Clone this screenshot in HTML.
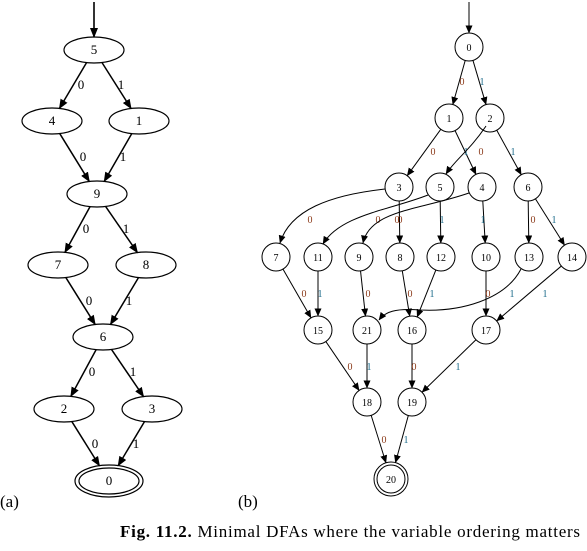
<!DOCTYPE html>
<html><head><meta charset="utf-8"><style>
html,body{margin:0;padding:0;background:#fff;}
svg{display:block;font-family:"Liberation Serif",serif;}
</style></head><body>
<svg id="s" width="587" height="551" viewBox="0 0 587 551" xmlns="http://www.w3.org/2000/svg">
<defs>
<marker id="ah" markerWidth="10" markerHeight="8" refX="9" refY="4" orient="auto" markerUnits="userSpaceOnUse"><path d="M0,0 L10,4 L0,8 z" fill="#000"/></marker>
<marker id="ah2" markerWidth="8" markerHeight="7" refX="7.5" refY="3.5" orient="auto" markerUnits="userSpaceOnUse"><path d="M0,0 L8,3.5 L0,7 z" fill="#000"/></marker>
</defs>
<g id="g"></g>
<text x="0" y="507" font-size="17">(a)</text>
<text x="238" y="507" font-size="17">(b)</text>
<text x="120" y="537" font-size="17" textLength="460" lengthAdjust="spacing"><tspan font-weight="bold">Fig. 11.2.</tspan> Minimal DFAs where the variable ordering matters</text>
</svg>
<script>
var g=document.getElementById('g'),out='';
var L={5:[94,50],4:[52,121],1:[139,121],9:[97,194],7:[58,265],8:[146,265],6:[103,337],2:[64,409],3:[152,409],0:[109,481]};
var rx=30,ry=13;
function eclip(c,t){var dx=t[0]-c[0],dy=t[1]-c[1];var k=1/Math.sqrt(dx*dx/(rx*rx)+dy*dy/(ry*ry));return [c[0]+dx*k,c[1]+dy*k];}
for(var k in L){var p=L[k];out+='<ellipse cx="'+p[0]+'" cy="'+p[1]+'" rx="'+rx+'" ry="'+ry+'" fill="none" stroke="#000" stroke-width="1.2"/>';
out+='<text x="'+p[0]+'" y="'+(p[1]+4)+'" font-size="13" text-anchor="middle">'+k+'</text>';}
out+='<ellipse cx="109" cy="481" rx="34" ry="16" fill="none" stroke="#000" stroke-width="1.2"/>';
out+='<line x1="94" y1="2" x2="94" y2="37" stroke="#000" stroke-width="1.6" marker-end="url(#ah)"/>';
var LE=[[5,4,'0',81,89],[5,1,'1',121,89],[4,9,'0',83,161],[1,9,'1',123,161],[9,7,'0',86,233],[9,8,'1',126,233],[7,6,'0',89,305],[8,6,'1',129,305],[6,2,'0',92,376],[6,3,'1',133,376],[2,0,'0',95,448],[3,0,'1',136,448]];
LE.forEach(function(e){var a=L[e[0]],b=L[e[1]];
 var p1=eclip(a,b),p2=eclip(b,a);if(e[1]==0){var dx=a[0]-b[0],dy=a[1]-b[1];var kk=1/Math.sqrt(dx*dx/(34*34)+dy*dy/(16*16));p2=[b[0]+dx*kk,b[1]+dy*kk];}
 out+='<line x1="'+p1[0]+'" y1="'+p1[1]+'" x2="'+p2[0]+'" y2="'+p2[1]+'" stroke="#000" stroke-width="1.5" marker-end="url(#ah)"/>';
 out+='<text x="'+e[3]+'" y="'+e[4]+'" font-size="13" text-anchor="middle">'+e[2]+'</text>';});
var R={0:[469,47],1:[449,118],2:[490,118],3:[399,187],5:[440,187],4:[482,187],6:[528,187],
7:[276,257],11:[318,257],9:[359,257],8:[400,257],12:[441,257],10:[486,257],13:[529,257],14:[572,257],
15:[318,330],21:[367,330],16:[412,330],17:[486,330],18:[367,402],19:[412,402],20:[391,479]};
var r=14;
for(var k in R){var p=R[k];out+='<circle cx="'+p[0]+'" cy="'+p[1]+'" r="'+(k==20?17:r)+'" fill="none" stroke="#000" stroke-width="1"/>';
 if(k==20)out+='<circle cx="'+p[0]+'" cy="'+p[1]+'" r="14" fill="none" stroke="#000" stroke-width="1"/>';
 out+='<text x="'+p[0]+'" y="'+(p[1]+4)+'" font-size="10" text-anchor="middle">'+k+'</text>';}
out+='<line x1="469" y1="2" x2="469" y2="33" stroke="#000" stroke-width="1" marker-end="url(#ah2)"/>';
var C0='#8b3a1a',C1='#1a6a8a';
var RE=[[0,1,'0',462,85],[0,2,'1',482,85],[1,3,'0',433,155],[1,4,'1',466,155],[2,6,'1',513,155],
[3,8,'0',400,223],[5,12,'1',442,223],[4,10,'1',483,223],[6,13,'0',533,223],[6,14,'1',554,223],
[7,15,'0',304,297],[11,15,'1',320,297],[9,21,'0',368,297],[8,16,'0',410,297],[12,16,'1',432,297],[10,17,'0',488,297],[14,17,'1',545,297],
[15,18,'0',350,370],[21,18,'1',369,370],[16,19,'0',414,370],[17,19,'1',458,370],[18,20,'0',384,443],[19,20,'1',406,443]];
RE.forEach(function(e){var a=R[e[0]],b=R[e[1]];var dx=b[0]-a[0],dy=b[1]-a[1],d=Math.sqrt(dx*dx+dy*dy);var rb=e[1]==20?17:r;
 out+='<line x1="'+(a[0]+dx/d*r)+'" y1="'+(a[1]+dy/d*r)+'" x2="'+(b[0]-dx/d*rb)+'" y2="'+(b[1]-dy/d*rb)+'" stroke="#000" stroke-width="1" marker-end="url(#ah2)"/>';
 out+='<text x="'+e[3]+'" y="'+e[4]+'" font-size="10" fill="'+(e[2]=='0'?C0:C1)+'" text-anchor="middle">'+e[2]+'</text>';});
var curves=[['M486,126 C470,150 455,160 446,174','0',481,155],
['M385,189 C330,195 290,210 280,243','0',310,223],
['M428,195 C390,210 340,215 323,244','0',378,223],
['M469,193 C420,210 370,210 363,243','0',397,223],
['M521,269 C505,300 460,312 420,310 C395,308 385,312 379,320','1',512,297]];
curves.forEach(function(c){out+='<path d="'+c[0]+'" fill="none" stroke="#000" stroke-width="1" marker-end="url(#ah2)"/>';
 out+='<text x="'+c[2]+'" y="'+c[3]+'" font-size="10" fill="'+(c[1]=='0'?C0:C1)+'" text-anchor="middle">'+c[1]+'</text>';});
g.innerHTML=out;
</script>
</body></html>
